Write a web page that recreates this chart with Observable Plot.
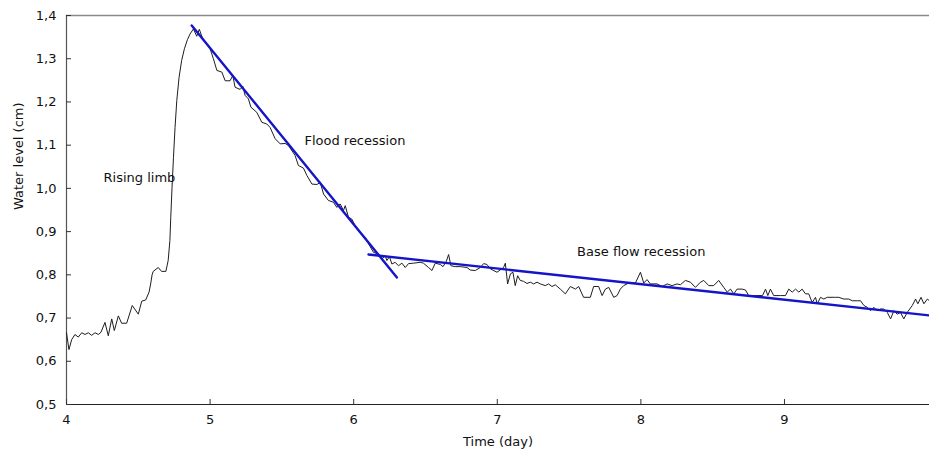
<!DOCTYPE html>
<html>
<head>
<meta charset="utf-8">
<script src="https://cdn.jsdelivr.net/npm/d3@7"></script>
<script src="https://cdn.jsdelivr.net/npm/@observablehq/plot@0.6"></script>
<style>
  html, body { margin: 0; padding: 0; background: #fff; }
  #chart svg { display: block; }
</style>
</head>
<body>
<div id="chart"></div>
<script>
// Observed water level series (time in days, level in cm)
const time = [
  4.000, 4.017, 4.036, 4.059, 4.082, 4.106, 4.129, 4.152, 4.175, 4.199, 4.222, 4.240,
  4.268, 4.291, 4.315, 4.333, 4.361, 4.384, 4.419, 4.458, 4.500, 4.524, 4.552, 4.575,
  4.586, 4.596, 4.604, 4.639, 4.662, 4.692, 4.708, 4.720, 4.726, 4.735, 4.745, 4.756,
  4.768, 4.784, 4.802, 4.821, 4.842, 4.860, 4.884, 4.907, 4.925, 4.949, 5.000, 5.023,
  5.047, 5.082, 5.105, 5.139, 5.158, 5.174, 5.209, 5.228, 5.244, 5.267, 5.284, 5.325,
  5.360, 5.395, 5.418, 5.453, 5.488, 5.523, 5.546, 5.592, 5.615, 5.650, 5.674, 5.709,
  5.744, 5.767, 5.790, 5.824, 5.859, 5.883, 5.906, 5.929, 5.941, 5.964, 5.987, 6.010,
  6.033, 6.057, 6.080, 6.103, 6.138, 6.173, 6.197, 6.220, 6.231, 6.249, 6.266, 6.289,
  6.312, 6.336, 6.359, 6.382, 6.417, 6.463, 6.486, 6.521, 6.545, 6.568, 6.603, 6.622,
  6.645, 6.661, 6.677, 6.707, 6.742, 6.789, 6.812, 6.847, 6.882, 6.905, 6.928, 6.951,
  6.998, 7.044, 7.056, 7.072, 7.091, 7.109, 7.125, 7.142, 7.160, 7.183, 7.207, 7.230,
  7.253, 7.277, 7.300, 7.334, 7.357, 7.381, 7.404, 7.439, 7.474, 7.509, 7.544, 7.567,
  7.601, 7.648, 7.671, 7.706, 7.730, 7.753, 7.776, 7.811, 7.834, 7.857, 7.880, 7.915,
  7.962, 7.997, 8.020, 8.043, 8.066, 8.113, 8.148, 8.183, 8.217, 8.252, 8.275, 8.310,
  8.345, 8.380, 8.415, 8.438, 8.473, 8.507, 8.542, 8.577, 8.601, 8.624, 8.647, 8.670,
  8.705, 8.728, 8.751, 8.798, 8.847, 8.868, 8.884, 8.902, 8.925, 8.972, 9.007, 9.030,
  9.054, 9.077, 9.100, 9.123, 9.146, 9.169, 9.193, 9.216, 9.228, 9.251, 9.274, 9.298,
  9.355, 9.378, 9.413, 9.448, 9.472, 9.507, 9.530, 9.553, 9.576, 9.599, 9.622, 9.646,
  9.669, 9.692, 9.716, 9.739, 9.762, 9.785, 9.808, 9.831, 9.855, 9.890, 9.913, 9.929,
  9.951, 9.971, 9.995, 10.010
];
const level = [
  0.666, 0.627, 0.650, 0.662, 0.656, 0.666, 0.662, 0.666, 0.660, 0.666, 0.662, 0.667,
  0.690, 0.659, 0.698, 0.671, 0.705, 0.688, 0.688, 0.729, 0.709, 0.739, 0.742, 0.760,
  0.779, 0.800, 0.808, 0.817, 0.808, 0.808, 0.833, 0.879, 0.932, 1.002, 1.072, 1.141,
  1.203, 1.257, 1.296, 1.323, 1.344, 1.357, 1.369, 1.352, 1.368, 1.346, 1.323, 1.300,
  1.273, 1.269, 1.249, 1.249, 1.261, 1.234, 1.229, 1.236, 1.215, 1.207, 1.188, 1.176,
  1.153, 1.149, 1.141, 1.115, 1.103, 1.104, 1.099, 1.076, 1.053, 1.047, 1.030, 1.010,
  1.009, 1.014, 0.987, 0.972, 0.968, 0.956, 0.964, 0.949, 0.960, 0.933, 0.929, 0.914,
  0.902, 0.895, 0.887, 0.872, 0.852, 0.848, 0.837, 0.844, 0.833, 0.842, 0.825, 0.829,
  0.821, 0.827, 0.817, 0.826, 0.827, 0.829, 0.827, 0.817, 0.810, 0.827, 0.824, 0.819,
  0.831, 0.847, 0.821, 0.819, 0.819, 0.817, 0.811, 0.810, 0.817, 0.826, 0.824, 0.814,
  0.806, 0.817, 0.827, 0.779, 0.802, 0.806, 0.775, 0.798, 0.787, 0.785, 0.780, 0.783,
  0.779, 0.783, 0.779, 0.775, 0.779, 0.773, 0.777, 0.767, 0.756, 0.773, 0.767, 0.773,
  0.748, 0.748, 0.773, 0.773, 0.752, 0.767, 0.771, 0.748, 0.752, 0.767, 0.775, 0.781,
  0.781, 0.806, 0.781, 0.789, 0.779, 0.779, 0.773, 0.779, 0.775, 0.779, 0.777, 0.787,
  0.783, 0.771, 0.783, 0.787, 0.775, 0.775, 0.787, 0.771, 0.760, 0.767, 0.756, 0.767,
  0.767, 0.765, 0.752, 0.752, 0.752, 0.767, 0.752, 0.767, 0.752, 0.752, 0.752, 0.767,
  0.760, 0.767, 0.760, 0.767, 0.756, 0.756, 0.736, 0.748, 0.733, 0.748, 0.744, 0.748,
  0.748, 0.748, 0.744, 0.744, 0.740, 0.740, 0.740, 0.729, 0.725, 0.717, 0.725, 0.717,
  0.721, 0.721, 0.713, 0.698, 0.717, 0.709, 0.713, 0.698, 0.713, 0.729, 0.744, 0.733,
  0.748, 0.733, 0.744, 0.740
];

// Fitted recession lines (endpoints)
const floodTime = [4.872, 6.301];
const floodLevel = [1.377, 0.794];
const baseTime = [6.103, 10.010];
const baseLevel = [0.847, 0.706];

// Annotations
const labelText = ["Rising limb", "Flood recession", "Base flow recession"];
const labelTime = [4.258, 5.657, 7.556];
const labelLevel = [1.025, 1.111, 0.854];

// Axis ticks
const xTicks = [4, 5, 6, 7, 8, 9];
const yTicks = [0.5, 0.6, 0.7, 0.8, 0.9, 1.0, 1.1, 1.2, 1.3, 1.4];

const observed = time.map((t, i) => ({t, v: level[i]}));
const flood = floodTime.map((t, i) => ({t, v: floodLevel[i]}));
const base = baseTime.map((t, i) => ({t, v: baseLevel[i]}));
const labels = labelText.map((s, i) => ({s, t: labelTime[i], v: labelLevel[i]}));
const fmt = d => d.toFixed(1).replace(".", ",");

const font = "'DejaVu Sans', 'Liberation Sans', Arial, sans-serif";

const chart = Plot.plot({
  width: 929,
  height: 455,
  marginLeft: 66,
  marginRight: 0,
  marginTop: 15,
  marginBottom: 51,
  x: {domain: [4, 10.01]},
  y: {domain: [0.5, 1.4]},
  style: {fontFamily: font, fontSize: "13px", background: "#fff", color: "#111"},
  marks: [
    Plot.ruleY([1.4], {stroke: "#8a8a8a", strokeWidth: 1.5}),
    Plot.ruleX([4], {stroke: "#555", strokeWidth: 1.2}),
    Plot.ruleY([0.5], {stroke: "#222", strokeWidth: 1.2}),
    // inward-pointing ticks (negative tick size)
    Plot.axisX(xTicks, {tickSize: -5, tickFormat: () => "", label: null, stroke: "#333"}),
    Plot.axisY(yTicks, {tickSize: -5, tickFormat: () => "", label: null, stroke: "#333"}),
    Plot.axisX(xTicks, {tickSize: 0, tickPadding: 10, tickFormat: d => String(d), label: null}),
    Plot.axisY(yTicks, {tickSize: 0, tickPadding: 10, tickFormat: fmt, label: null}),
    Plot.line(observed, {x: "t", y: "v", stroke: "#1e1e1e", strokeWidth: 1}),
    Plot.line(flood, {x: "t", y: "v", stroke: "#1414c8", strokeWidth: 2.4}),
    Plot.line(base, {x: "t", y: "v", stroke: "#1414c8", strokeWidth: 2.4}),
    Plot.text(labels, {x: "t", y: "v", text: "s", textAnchor: "start", fill: "#111"}),
    Plot.text(["Time (day)"], {frameAnchor: "bottom", dy: 41, fill: "#111"}),
    Plot.text(["Water level (cm)"], {frameAnchor: "left", dx: -48, rotate: -90, fill: "#111"})
  ]
});
document.getElementById("chart").appendChild(chart);
</script>
</body>
</html>
